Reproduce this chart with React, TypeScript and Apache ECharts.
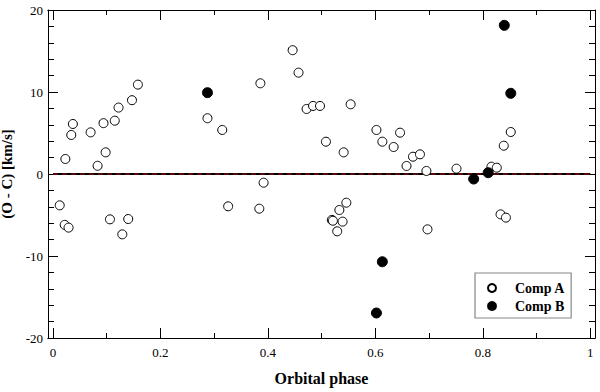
import React, { useEffect, useRef } from "react";
import * as echarts from "echarts";

const phaseA = [0.0125, 0.0218, 0.029, 0.023, 0.034, 0.037, 0.07, 0.083, 0.094, 0.098, 0.106, 0.115, 0.122, 0.129, 0.14, 0.147, 0.158, 0.2875, 0.315, 0.326, 0.384, 0.386, 0.392, 0.446, 0.457, 0.472, 0.484, 0.497, 0.508, 0.519, 0.521, 0.529, 0.533, 0.539, 0.541, 0.546, 0.554, 0.602, 0.613, 0.634, 0.646, 0.658, 0.67, 0.683, 0.695, 0.697, 0.751, 0.816, 0.826, 0.833, 0.839, 0.843, 0.852];
const ocA = [-3.82, -6.2, -6.54, 1.83, 4.76, 6.1, 5.08, 1.0, 6.2, 2.64, -5.53, 6.5, 8.1, -7.36, -5.49, 9.0, 10.9, 6.8, 5.37, -3.94, -4.23, 11.06, -1.06, 15.1, 12.36, 7.93, 8.3, 8.3, 3.94, -5.6, -5.7, -6.99, -4.39, -5.81, 2.64, -3.5, 8.5, 5.37, 3.94, 3.29, 5.04, 0.98, 2.11, 2.4, 0.37, -6.75, 0.65, 0.89, 0.77, -4.92, 3.45, -5.32, 5.12];
const phaseB = [0.2875, 0.602, 0.613, 0.783, 0.81, 0.84, 0.852];
const ocB = [9.92, -16.95, -10.7, -0.61, 0.16, 18.13, 9.84];
const zeroLineX = [0, 1];
const majorX = [0, 0.2, 0.4, 0.6, 0.8, 1];
const minorX = [0.1, 0.3, 0.5, 0.7, 0.9];
const xMin = -0.0093;
const xMax = 1.0088;

const serif = "Liberation Serif";

export default function App() {
  const ref = useRef<HTMLDivElement>(null);
  useEffect(() => {
    if (!ref.current) return;
    const chart = echarts.init(ref.current, undefined, { renderer: "svg" });
    const line = { show: true, onZero: false, lineStyle: { color: "#000", width: 1 } };
    const mkX = (pos: string, vals: number[], len: number, labels: boolean, extra: any = {}) => ({
      type: "value",
      position: pos,
      min: xMin,
      max: xMax,
      axisLine: line,
      splitLine: { show: false },
      axisTick: { show: true, inside: true, length: len, customValues: vals, lineStyle: { color: "#000" } },
      axisLabel: labels
        ? { show: true, customValues: majorX, color: "#000", fontFamily: serif, fontSize: 13, margin: 8 }
        : { show: false },
      ...extra,
    });
    const mkY = (pos: string, labels: boolean, extra: any = {}) => ({
      type: "value",
      position: pos,
      min: -20,
      max: 20,
      interval: 10,
      axisLine: line,
      splitLine: { show: false },
      axisTick: { show: true, inside: true, length: 10, lineStyle: { color: "#000" } },
      minorTick: { show: true, splitNumber: 5, length: 6, lineStyle: { color: "#000" } },
      axisLabel: labels
        ? { show: true, color: "#000", fontFamily: serif, fontSize: 13, margin: 5 }
        : { show: false },
      ...extra,
    });
    chart.setOption({
      animation: false,
      backgroundColor: "#fff",
      grid: { left: 48, right: 5, top: 10, bottom: 54, outerBoundsMode: "none", containLabel: false },
      xAxis: [
        mkX("bottom", majorX, 10, true, {
          name: "Orbital phase",
          nameLocation: "middle",
          nameGap: 32,
          nameTextStyle: { fontFamily: serif, fontSize: 16, fontWeight: "bold", color: "#000" },
        }),
        mkX("top", majorX, 10, false),
        mkX("bottom", minorX, 5, false),
        mkX("top", minorX, 5, false),
      ],
      yAxis: [
        mkY("left", true, {
          name: "(O - C) [km/s]",
          nameLocation: "middle",
          nameGap: 28,
          nameTextStyle: { fontFamily: serif, fontSize: 15, lineHeight: 15, fontWeight: "bold", color: "#000" },
        }),
        mkY("right", false),
      ],
      legend: {
        data: ["Comp A", "Comp B"],
        orient: "vertical",
        left: 475,
        top: 273,
        padding: [8, 6, 5, 12],
        itemGap: 4,
        itemWidth: 8,
        itemHeight: 8,
        icon: "circle",
        borderColor: "#888",
        borderWidth: 1.2,
        backgroundColor: "#fff",
        textStyle: { fontFamily: serif, fontSize: 14, fontWeight: "bold", color: "#000", padding: [0, 0, 0, 14] },
      },
      series: [
        {
          type: "line",
          data: zeroLineX.map((x) => [x, 0]),
          symbol: "none",
          lineStyle: { color: "#000", width: 2 },
          z: 1,
        },
        {
          type: "line",
          data: zeroLineX.map((x) => [x, 0]),
          symbol: "none",
          lineStyle: { color: "#b01010", width: 1, type: [5, 4] },
          z: 2,
        },
        {
          name: "Comp A",
          type: "scatter",
          data: phaseA.map((x, i) => [x, ocA[i]]),
          symbol: "circle",
          symbolSize: 9,
          itemStyle: { color: "#fff", borderColor: "#000", borderWidth: 1, opacity: 1 },
          z: 3,
        },
        {
          name: "Comp B",
          type: "scatter",
          data: phaseB.map((x, i) => [x, ocB[i]]),
          symbol: "circle",
          symbolSize: 10,
          itemStyle: { color: "#000", borderColor: "#000", borderWidth: 1, opacity: 1 },
          z: 4,
        },
      ],
    });
    return () => chart.dispose();
  }, []);
  return <div ref={ref} style={{ position: "fixed", left: 0, top: 0, width: 600, height: 392 }} />;
}
